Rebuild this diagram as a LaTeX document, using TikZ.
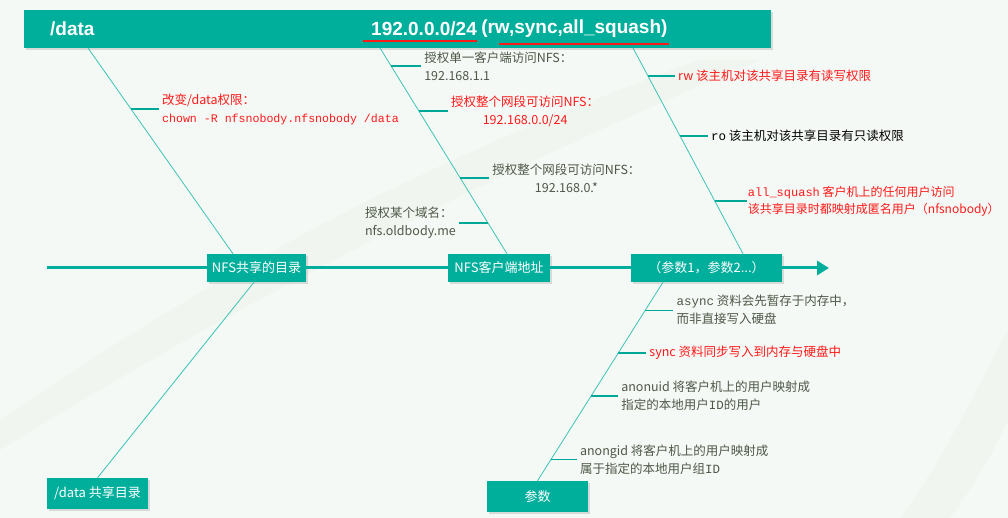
\documentclass[tikz,border=0pt]{standalone}
\usepackage{fontspec}
\setmainfont{Liberation Sans}
\setmonofont{Liberation Mono}
\newfontfamily\cjk{Noto Sans CJK SC}
\usetikzlibrary{arrows.meta,calc,shadows}
\definecolor{nfsteal}{HTML}{00AE9C}
\definecolor{nfsline}{HTML}{3CC4B6}
\definecolor{nfstwig}{HTML}{00A898}
\definecolor{nfsred}{HTML}{FF1A1A}
\definecolor{nfsgray}{HTML}{4E5848}
\definecolor{nfsbg}{HTML}{F5F9F5}
\definecolor{nfsband}{HTML}{ECF3EA}
\begin{document}
\begin{tikzpicture}[
      x=1pt, y=-1pt,
      font=\cjk\fontsize{12.5}{18}\selectfont,
      tealbox/.style={fill=nfsteal, text=white, inner sep=0pt, minimum height=28pt,
        font=\cjk\fontsize{13}{16}\selectfont,
        drop shadow={shadow xshift=2pt, shadow yshift=-2pt, fill=black, opacity=0.12}},
      bannertext/.style={anchor=west, text=white, inner sep=0pt,
        font=\rmfamily\bfseries\fontsize{19}{22}\selectfont},
      underline/.style={draw=nfsred, line width=1.6pt},
      bone/.style={draw=nfsline, line width=0.8pt},
      twig/.style={draw=nfstwig, line width=1.3pt},
      lbl/.style={text=nfsgray, align=left, inner sep=3pt},
      redlbl/.style={lbl, text=nfsred},
      spine/.style={draw=nfsteal, line width=3pt}
    ]
      % background
      \fill[nfsbg] (0,0) rectangle (1008,518);
      \fill[nfsband, opacity=0.5] (0,420) .. controls (250,250) and (450,150) .. (700,60) -- (760,60) .. controls (500,170) and (260,290) .. (0,450) -- cycle;
      \fill[nfsband, opacity=0.5] (900,518) .. controls (950,450) and (980,380) .. (1008,330) -- (1008,420) .. controls (990,460) and (970,490) .. (950,518) -- cycle;
      \useasboundingbox (0,0) rectangle (1008,518);

      % banner
      \node[tealbox, minimum width=747pt, minimum height=38pt] (banner) at (397.5,29) {};
      \node[bannertext] (bdata) at (50,29) {/data};
      \node[bannertext] (bip) at (371,29) {192.0.0.0/24};
      \node[bannertext] (bopt) at ($(bip.east)+(4,0)$) {(rw,sync,all\_squash)};
      \coordinate (ul1a) at ($(bip.south west)+(-8,5)$);
      \coordinate (ul1b) at ($(bip.south east)+(0,5)$);
      \coordinate (ul2a) at ($(bopt.south west)+(18,6)$);
      \coordinate (ul2b) at ($(bopt.south east)+(1,6)$);
      \draw[underline] (ul1a) -- (ul1b);
      \draw[underline] (ul2a) -- (ul2b);

      % main boxes
      \node[tealbox, minimum width=99pt] (dirbox) at (256.5,268) {NFS共享的目录};
      \node[tealbox, minimum width=102pt] (clientbox) at (499,268) {NFS客户端地址};
      \node[tealbox, minimum width=151pt] (optbox) at (706.5,268) {（参数1，参数2...）};
      \node[tealbox, minimum width=101pt, minimum height=31pt] (sharebox) at (97.5,493.5) {/data 共享目录};
      \node[tealbox, minimum width=101pt, minimum height=31pt] (parambox) at (537.5,496.5) {参数};

      % spine
      \coordinate (spinestart) at (47,268);
      \coordinate (spineend) at (829,268);
      \draw[spine] (spinestart) -- (dirbox.west);
      \draw[spine] (dirbox.east) -- (clientbox.west);
      \draw[spine] (clientbox.east) -- (optbox.west);
      \draw[spine, -{Triangle[length=12pt, width=14pt]}] (optbox.east) -- (spineend);

      % bones
      \coordinate (top1) at (88,48);
      \coordinate (end1) at ($(dirbox.north)+(-23.5,0)$);
      \coordinate (top2) at (380,48);
      \coordinate (end2) at ($(clientbox.north)+(8,0)$);
      \coordinate (top3) at (633,48);
      \coordinate (end3) at ($(optbox.north)+(36.5,0)$);
      \coordinate (start4) at ($(optbox.south)+(-43.5,0)$);
      \coordinate (end4) at (parambox.north);
      \coordinate (start5) at ($(dirbox.south)+(-2.5,0)$);
      \coordinate (end5) at (sharebox.north);
      \draw[bone] (top1) -- (end1);
      \draw[bone] (top2) -- (end2);
      \draw[bone] (top3) -- (end3);
      \draw[bone] (start4) -- (end4);
      \draw[bone] (start5) -- (end5);

      % shared directory
      \coordinate (p11) at ($(top1)!0.296!(end1)$);
      \node[redlbl, anchor=west] (permlbl) at ($(p11)+(28,0)$) {改变/data权限：\\{\ttfamily\fontsize{11.6}{18}\selectfont chown -R nfsnobody.nfsnobody /data}};
      \draw[twig] (p11) -- (permlbl.west);

      % client addresses
      \coordinate (p21) at ($(top2)!0.087!(end2)$);
      \coordinate (p22) at ($(top2)!0.306!(end2)$);
      \coordinate (p23) at ($(top2)!0.631!(end2)$);
      \coordinate (p24) at ($(top2)!0.850!(end2)$);
      \node[lbl, anchor=west] (hostlbl) at ($(p21)+(30,0)$) {授权单一客户端访问NFS：\\192.168.1.1};
      \node[redlbl, anchor=west, align=center] (netlbl) at ($(p22)+(29,0)$) {授权整个网段可访问NFS：\\192.168.0.0/24};
      \node[lbl, anchor=west, align=center] (starlbl) at ($(p23)+(29,0)$) {授权整个网段可访问NFS：\\192.168.0.*};
      \node[lbl, anchor=east] (domlbl) at ($(p24)+(-29,0)$) {授权某个域名：\\nfs.oldbody.me};
      \draw[twig] (p21) -- (hostlbl.west);
      \draw[twig] (p22) -- (netlbl.west);
      \draw[twig] (p23) -- (starlbl.west);
      \draw[twig] (p24) -- (domlbl.east);

      % options
      \coordinate (p31) at ($(top3)!0.136!(end3)$);
      \coordinate (p32) at ($(top3)!0.427!(end3)$);
      \coordinate (p33) at ($(top3)!0.743!(end3)$);
      \node[redlbl, anchor=west] (rwlbl) at ($(p31)+(27,0)$) {rw 该主机对该共享目录有读写权限};
      \node[lbl, text=black, anchor=west] (rolbl) at ($(p32)+(28,0)$) {{\ttfamily ro} 该主机对该共享目录有只读权限};
      \node[redlbl, anchor=west, inner sep=1pt, font=\cjk\fontsize{12}{17}\selectfont] (squashlbl) at ($(p33)+(32,0)$) {{\ttfamily all\_squash} 客户机上的任何用户访问\\该共享目录时都映射成匿名用户（nfsnobody）};
      \draw[twig] (p31) -- (rwlbl.west);
      \draw[twig] (p32) -- (rolbl.west);
      \draw[twig] (p33) -- (squashlbl.west);

      % parameters
      \coordinate (p41) at ($(start4)!0.141!(end4)$);
      \coordinate (p42) at ($(start4)!0.357!(end4)$);
      \coordinate (p43) at ($(start4)!0.573!(end4)$);
      \coordinate (p44) at ($(start4)!0.894!(end4)$);
      \node[lbl, anchor=west] (asynclbl) at ($(p41)+(28,0)$) {{\ttfamily async} 资料会先暂存于内存中，\\而非直接写入硬盘};
      \node[redlbl, anchor=west] (synclbl) at ($(p42)+(28,0)$) {sync 资料同步写入到内存与硬盘中};
      \node[lbl, anchor=west] (uidlbl) at ($(p43)+(27,0)$) {anonuid 将客户机上的用户映射成\\指定的本地用户{\ttfamily ID}的用户};
      \node[lbl, anchor=west] (gidlbl) at ($(p44)+(26,0)$) {anongid 将客户机上的用户映射成\\属于指定的本地用户组{\ttfamily ID}};
      \draw[twig] (p41) -- (asynclbl.west);
      \draw[twig] (p42) -- (synclbl.west);
      \draw[twig] (p43) -- (uidlbl.west);
      \draw[twig] (p44) -- (gidlbl.west);
    \end{tikzpicture}
\end{document}
